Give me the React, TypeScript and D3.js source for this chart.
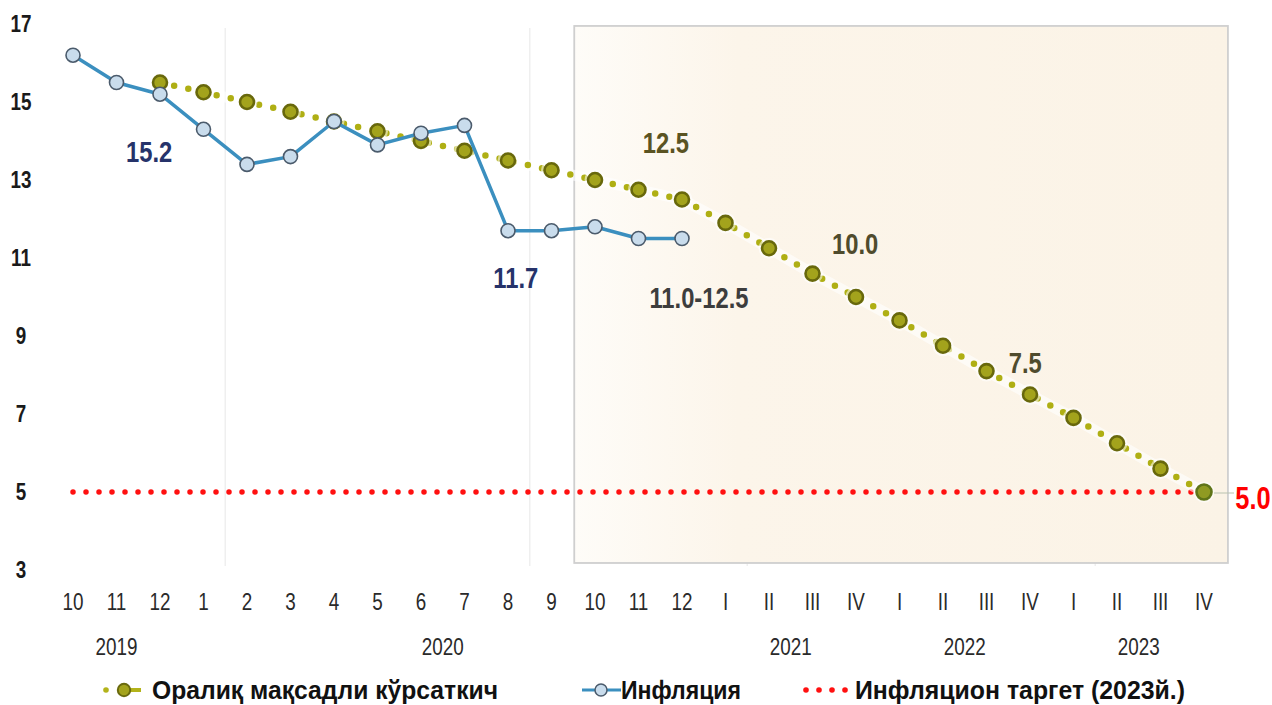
import React from "react";
import * as d3 from "d3";

const categories: string[] = [
  "10", "11", "12", "1", "2", "3", "4", "5", "6", "7", "8", "9", "10", "11", "12",
  "I", "II", "III", "IV", "I", "II", "III", "IV", "I", "II", "III", "IV",
];
const yearLabels = [
  { year: "2019", from: 0, to: 2 },
  { year: "2020", from: 3, to: 14 },
  { year: "2021", from: 15, to: 18 },
  { year: "2022", from: 19, to: 22 },
  { year: "2023", from: 23, to: 26 },
];
const inflation: number[] = [16.2, 15.5, 15.2, 14.3, 13.4, 13.6, 14.5, 13.9, 14.2, 14.4, 11.7, 11.7, 11.8, 11.5, 11.5];
const targetPath: (number | null)[] = [
  null, null, 15.5, 15.25, 15.0, 14.75, 14.5, 14.25, 14.0, 13.75, 13.5, 13.25, 13.0, 12.75, 12.5,
  11.9, 11.25, 10.6, 10.0, 9.4, 8.75, 8.1, 7.5, 6.9, 6.25, 5.6, 5.0,
];
const inflationTarget = 5.0;
const yTicks = [3, 5, 7, 9, 11, 13, 15, 17];
const annotations = [
  { text: "15.2", i: 1.75, v: 13.74, color: "#26336a" },
  { text: "11.7", i: 10.18, v: 10.49, color: "#26336a" },
  { text: "12.5", i: 13.63, v: 13.95, color: "#5a5322" },
  { text: "11.0-12.5", i: 14.39, v: 10.0, color: "#3d3d3d" },
  { text: "10.0", i: 17.98, v: 11.38, color: "#4f4b2d" },
  { text: "7.5", i: 21.89, v: 8.33, color: "#4f4b2d" },
];
const legendItems = ["Оралиқ мақсадли кўрсаткич", "Инфляция", "Инфляцион таргет (2023й.)"];

const FONT = "'Liberation Sans', Arial, sans-serif";

function T(props: {
  x: number; y: number; size: number; weight?: string | number; fill?: string;
  anchor?: string; sx?: number; children: React.ReactNode; textLength?: number;
}) {
  const { x, y, size, weight = "normal", fill = "#222", anchor = "middle", sx = 0.82, children, textLength } = props;
  return (
    <text
      transform={`translate(${x},${y}) scale(${sx},1)`}
      fontFamily={FONT}
      fontSize={size}
      fontWeight={weight}
      fill={fill}
      textAnchor={anchor}
      {...(textLength ? { textLength: textLength / sx, lengthAdjust: "spacingAndGlyphs" } : {})}
    >
      {children}
    </text>
  );
}

export default function App() {
  const W = 1272, H = 705;
  const x = d3.scaleLinear().domain([0, categories.length - 1]).range([73, 1204]);
  const y = d3.scaleLinear().domain([3, 17]).range([570, 24]);

  const targetPts = targetPath
    .map((v, i) => (v == null ? null : ([i, v] as [number, number])))
    .filter((d): d is [number, number] => d !== null);
  const infPts = inflation.map((v, i) => [i, v] as [number, number]);

  const line = d3.line<[number, number]>().x((d) => x(d[0])).y((d) => y(d[1]));

  const shadeX0 = x(11.5) + 1;
  const shadeX1 = x(26.55);
  const gridXs = [3.5, 10.5, 15.5, 23.5];

  return (
    <svg width={W} height={H} style={{ position: "absolute", left: 0, top: 0, background: "#fff" }}>
      <defs>
        <linearGradient id="shade" x1="0" x2="1" y1="0" y2="0">
          <stop offset="0" stopColor="#fefcf8" />
          <stop offset="0.25" stopColor="#fcf5ea" />
          <stop offset="1" stopColor="#fbf3e6" />
        </linearGradient>
      </defs>

      {/* faint vertical grid lines */}
      {gridXs.map((g) => (
        <line key={g} x1={x(g)} x2={x(g)} y1={28} y2={566} stroke="#efefef" strokeWidth={1.5} />
      ))}

      {/* shaded forecast region */}
      <rect x={shadeX0} y={y(16.95)} width={shadeX1 - shadeX0} height={y(3.18) - y(16.95)}
        fill="url(#shade)" stroke="#cfcfcf" strokeWidth={1.8} />

      {/* y ticks */}
      {yTicks.map((t) => (
        <T key={t} x={21} y={y(t) + 8} size={23} weight="bold" fill="#1a1a1a">{t}</T>
      ))}

      {/* x labels */}
      {categories.map((c, i) => (
        <T key={i} x={x(i)} y={610} size={23} fill="#2a2a2a">{c}</T>
      ))}
      {yearLabels.map((yl) => (
        <T key={yl.year} x={(x(yl.from) + x(yl.to)) / 2} y={655} size={23} fill="#2a2a2a">{yl.year}</T>
      ))}

      {/* inflation target line */}
      <path
        d={line([[0, inflationTarget], [categories.length - 1, inflationTarget]]) || ""}
        fill="none" stroke="#ff1010" strokeWidth={5.5} strokeLinecap="round" strokeDasharray="0 13"
      />

      {/* target path (olive dotted) */}
      <path d={line(targetPts) || ""} fill="none" stroke="#ffffff" strokeWidth={11} strokeOpacity={0.6} />
      <path d={line(targetPts) || ""} fill="none" stroke="#afaf14" strokeWidth={6.5}
        strokeLinecap="round" strokeDasharray="0 14.5" />
      {targetPts.map((d, i) => {
        const last = i === targetPts.length - 1;
        return (
          <g key={i}>
            <circle cx={x(d[0])} cy={y(d[1])} r={10.5} fill="#fff" opacity={0.55} />
            <circle cx={x(d[0])} cy={y(d[1])} r={last ? 7.5 : 7} fill={last ? "#8f9a22" : "#a3a31c"}
              stroke={last ? "#5f7418" : "#68680c"} strokeWidth={2.6} />
          </g>
        );
      })}

      {/* inflation line */}
      <path d={line(infPts) || ""} fill="none" stroke="#3b8fbf" strokeWidth={3.5} strokeLinejoin="round" />
      {infPts.map((d, i) => (
        <circle key={i} cx={x(d[0])} cy={y(d[1])} r={7} fill="#c9dcec" stroke="#4b5b6c" strokeWidth={1.6} />
      ))}

      {/* annotations */}
      {annotations.map((a) => (
        <T key={a.text} x={x(a.i)} y={y(a.v) + 10.5} size={29} weight="bold" fill={a.color}>{a.text}</T>
      ))}
      <line x1={x(26) + 10} x2={x(26) + 30} y1={y(5) + 1} y2={y(5) + 1} stroke="#b9c2b0" strokeWidth={1} />
      <T x={1253} y={y(5) + 17} size={31} weight="bold" fill="#ff0000">5.0</T>

      {/* legend */}
      <g>
        <circle cx={106} cy={690} r={2.8} fill="#b3b31a" />
        <line x1={118} x2={141} y1={690} y2={690} stroke="#b3b31a" strokeWidth={4} />
        <circle cx={124} cy={690} r={6.2} fill="#a3a31c" stroke="#6a6a0e" strokeWidth={2} />
        <T x={152} y={699} size={25} weight="bold" fill="#111" anchor="start" textLength={346}>{legendItems[0]}</T>

        <line x1={582} x2={621} y1={690} y2={690} stroke="#3b8fbf" strokeWidth={3} />
        <circle cx={601} cy={690} r={6} fill="#c9dcec" stroke="#4b5b6c" strokeWidth={1.5} />
        <T x={621} y={699} size={25} weight="bold" fill="#111" anchor="start" textLength={120}>{legendItems[1]}</T>

        {[806, 819, 832, 845].map((cx) => (
          <circle key={cx} cx={cx} cy={690} r={2.8} fill="#ff1010" />
        ))}
        <T x={855} y={699} size={25} weight="bold" fill="#111" anchor="start" textLength={330}>{legendItems[2]}</T>
      </g>
    </svg>
  );
}
